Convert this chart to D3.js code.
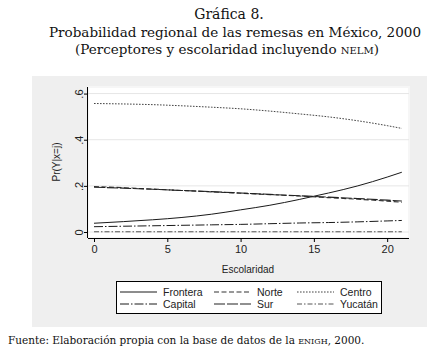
<!DOCTYPE html>
<html><head><meta charset="utf-8">
<script src="https://cdn.jsdelivr.net/npm/d3@7"></script>
<style>
body{margin:0;background:#fff;}
svg{display:block;}
</style></head>
<body>
<script>
// ---- data ----
const titleLines = ["Gráfica 8.", "Probabilidad regional de las remesas en México, 2000"];
const escolaridad = [0, 2, 4, 6, 8, 10, 12, 14, 16, 18, 20, 21];
const frontera = [0.038, 0.045, 0.053, 0.063, 0.077, 0.096, 0.116, 0.141, 0.169, 0.200, 0.238, 0.259];
const norte    = [0.197, 0.192, 0.186, 0.180, 0.174, 0.168, 0.162, 0.156, 0.149, 0.142, 0.134, 0.129];
const centro   = [0.557, 0.555, 0.552, 0.547, 0.541, 0.534, 0.524, 0.512, 0.499, 0.482, 0.461, 0.449];
const capital  = [0.023, 0.025, 0.027, 0.029, 0.031, 0.033, 0.036, 0.039, 0.041, 0.044, 0.048, 0.050];
const sur      = [0.194, 0.190, 0.185, 0.180, 0.175, 0.169, 0.163, 0.157, 0.151, 0.145, 0.138, 0.134];
const yucatan  = [0.001, 0.001, 0.001, 0.001, 0.001, 0.001, 0.001, 0.001, 0.001, 0.001, 0.001, 0.001];
const seriesNames = ["Frontera", "Norte", "Centro", "Capital", "Sur", "Yucatán"];
const xTicks = [0, 5, 10, 15, 20];
const yTicks = [0, 0.2, 0.4, 0.6];
const yTickLabels = ["0", ".2", ".4", ".6"];

const seriesValues = [frontera, norte, centro, capital, sur, yucatan];
const styles = [
  {dash: null, color: "#1a1a1a", w: 1},
  {dash: "5,2.5", color: "#333", w: 1.1},
  {dash: "1.6,1.4", color: "#444", w: 1},
  {dash: "9,2,1.5,2", color: "#1a1a1a", w: 1},
  {dash: "11,2", color: "#222", w: 1.1},
  {dash: "5,2,1.5,2", color: "#555", w: 1}
];

const W = 432, H = 356;
const svg = d3.select("body").append("svg").attr("width", W).attr("height", H);

// titles
const serif = "'DejaVu Serif', 'Liberation Serif', serif";
svg.append("text").attr("x", 229).attr("y", 19).attr("text-anchor", "middle")
  .attr("font-family", serif).attr("font-size", 14).attr("fill", "#111").text(titleLines[0]);
svg.append("text").attr("x", 235).attr("y", 37).attr("text-anchor", "middle")
  .attr("font-family", serif).attr("font-size", 13.5).attr("fill", "#111")
  .attr("textLength", 372).attr("lengthAdjust", "spacingAndGlyphs").text(titleLines[1]);
const t3 = svg.append("text").attr("x", 227).attr("y", 54).attr("text-anchor", "middle")
  .attr("font-family", serif).attr("font-size", 13.5).attr("fill", "#111");
t3.append("tspan").text("(Perceptores y escolaridad incluyendo ");
t3.append("tspan").attr("font-size", 10).text("NELM");
t3.append("tspan").text(")");

// graph region
svg.append("rect").attr("x", 32).attr("y", 76).attr("width", 395).attr("height", 251).attr("fill", "#efefef");

const pl = 88, pr = 409, pt = 87, pb = 238;
svg.append("rect").attr("x", pl).attr("y", pt).attr("width", pr - pl).attr("height", pb - pt).attr("fill", "#fff")
  .attr("stroke", "#f6f6f6").attr("stroke-width", 2);

const x = d3.scaleLinear().domain([-0.41, 21.49]).range([pl, pr]);
const y = d3.scaleLinear().domain([-0.026, 0.6285]).range([pb, pt]);

// grid
svg.append("g").selectAll("line").data(yTicks).join("line")
  .attr("x1", pl).attr("x2", pr).attr("y1", d => y(d)).attr("y2", d => y(d))
  .attr("stroke", "#e6e6e6").attr("stroke-width", 1);

// lines
const line = d3.line().x(d => x(d[0])).y(d => y(d[1])).curve(d3.curveMonotoneX);
seriesValues.forEach((vals, i) => {
  const st = styles[i];
  svg.append("path").datum(escolaridad.map((e, k) => [e, vals[k]]))
    .attr("d", line).attr("fill", "none").attr("stroke", st.color)
    .attr("stroke-width", st.w).attr("stroke-dasharray", st.dash);
});

// axes
const sans = "'Liberation Sans', Arial, sans-serif";
const xAxis = svg.append("g").attr("transform", `translate(0,${pb})`)
  .call(d3.axisBottom(x).tickValues(xTicks).tickSize(4).tickPadding(3).tickFormat(d3.format("d")));
xAxis.select(".domain").attr("d", `M${pl},0.5H${pr}`).attr("stroke", "#000");
xAxis.selectAll("text").attr("font-family", sans).attr("font-size", 11).attr("fill", "#222");

const yAxis = svg.append("g").attr("transform", `translate(${pl},0)`)
  .call(d3.axisLeft(y).tickValues(yTicks).tickSize(4).tickFormat((d, i) => yTickLabels[i]));
yAxis.select(".domain").attr("d", `M-0.5,${pt}V${pb}`).attr("stroke", "#000");
yAxis.selectAll("text").attr("font-family", sans).attr("font-size", 11).attr("fill", "#222")
  .attr("text-anchor", "middle").attr("x", null).attr("dy", null)
  .attr("transform", "translate(-9,0) rotate(-90)").attr("y", 0).attr("dy", "0.35em");

svg.append("text").attr("x", 248).attr("y", 273).attr("text-anchor", "middle")
  .attr("font-family", sans).attr("font-size", 10).attr("fill", "#222").text("Escolaridad");

svg.append("text").attr("transform", "translate(60,162) rotate(-90)").attr("text-anchor", "middle")
  .attr("font-family", sans).attr("font-size", 10).attr("fill", "#222").text("Pr(Y|x=j)");

// legend
svg.append("rect").attr("x", 116.5).attr("y", 281.5).attr("width", 265).attr("height", 32)
  .attr("fill", "#fff").attr("stroke", "#000").attr("stroke-width", 1);
const colX = [120, 214, 297];
const rowY = [292, 304];
seriesNames.forEach((name, i) => {
  const cx = colX[i % 3], cy = rowY[Math.floor(i / 3)];
  const st = styles[i];
  svg.append("line").attr("x1", cx).attr("x2", cx + 37).attr("y1", cy).attr("y2", cy)
    .attr("stroke", st.color).attr("stroke-width", st.w).attr("stroke-dasharray", st.dash);
  svg.append("text").attr("x", cx + 43).attr("y", cy).attr("dy", "0.35em")
    .attr("font-family", sans).attr("font-size", 10.5).attr("fill", "#222").text(name);
});

// source
const src = svg.append("text").attr("x", 8).attr("y", 344)
  .attr("font-family", serif).attr("font-size", 10.5).attr("fill", "#111");
src.append("tspan").text("Fuente: Elaboración propia con la base de datos de la ");
src.append("tspan").attr("font-size", 8).text("ENIGH");
src.append("tspan").text(", 2000.");
</script>
</body></html>
